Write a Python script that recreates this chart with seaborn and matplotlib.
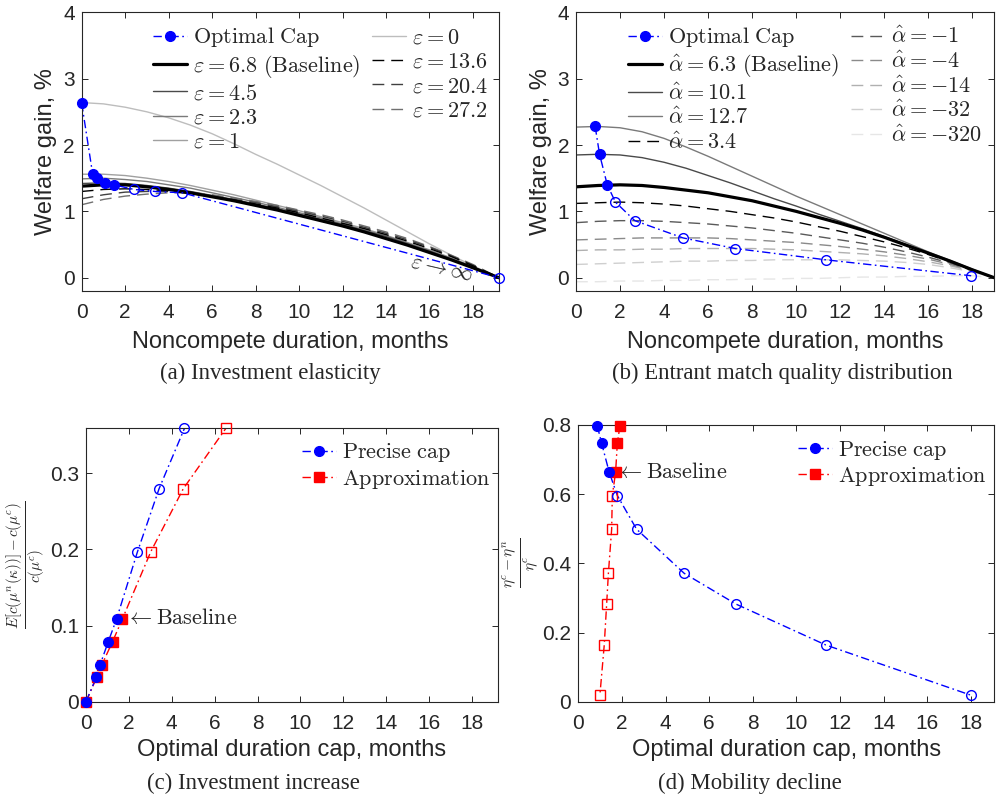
import matplotlib
matplotlib.use("Agg")
import matplotlib.pyplot as plt
import seaborn as sns
from matplotlib.lines import Line2D

# ─────────────────────────────────────────────
# Data
# ─────────────────────────────────────────────
# (a) welfare gain by investment elasticity
months_a = [0, 1, 2, 3, 4, 5, 6, 7, 8, 9, 10, 11, 12, 13, 14, 15, 16, 17, 18, 19.2]
gain_eps_0 = [2.64, 2.62, 2.57, 2.50, 2.41, 2.30, 2.17, 2.02, 1.86, 1.71, 1.55, 1.39, 1.22, 1.05, 0.87, 0.69, 0.51, 0.34, 0.18, 0.0]
gain_eps_1 = [1.56, 1.56, 1.54, 1.50, 1.45, 1.39, 1.32, 1.25, 1.17, 1.09, 1.01, 0.92, 0.83, 0.74, 0.64, 0.53, 0.42, 0.30, 0.17, 0.0]
gain_eps_23 = [1.49, 1.50, 1.48, 1.45, 1.40, 1.35, 1.28, 1.21, 1.14, 1.06, 0.98, 0.90, 0.81, 0.72, 0.63, 0.52, 0.41, 0.29, 0.16, 0.0]
gain_eps_45 = [1.42, 1.43, 1.42, 1.39, 1.35, 1.30, 1.24, 1.18, 1.11, 1.04, 0.96, 0.88, 0.80, 0.71, 0.62, 0.51, 0.40, 0.28, 0.16, 0.0]
gain_eps_68 = [1.38, 1.40, 1.40, 1.37, 1.33, 1.28, 1.22, 1.16, 1.09, 1.02, 0.94, 0.86, 0.78, 0.69, 0.59, 0.49, 0.38, 0.27, 0.15, 0.0]
gain_eps_136 = [1.30, 1.33, 1.34, 1.33, 1.31, 1.27, 1.22, 1.17, 1.11, 1.05, 0.98, 0.90, 0.82, 0.74, 0.65, 0.55, 0.44, 0.32, 0.18, 0.0]
gain_eps_204 = [1.19, 1.25, 1.29, 1.30, 1.30, 1.27, 1.23, 1.18, 1.13, 1.07, 1.00, 0.93, 0.85, 0.76, 0.67, 0.57, 0.46, 0.33, 0.19, 0.0]
gain_eps_272 = [1.10, 1.18, 1.23, 1.26, 1.28, 1.28, 1.25, 1.20, 1.15, 1.09, 1.02, 0.95, 0.87, 0.78, 0.69, 0.59, 0.47, 0.34, 0.20, 0.0]
cap_a_x = [0, 0.5, 0.69, 1.07, 1.49, 2.41, 3.38, 4.63, 19.2]
cap_a_y = [2.63, 1.57, 1.50, 1.43, 1.40, 1.33, 1.30, 1.28, 0.0]
n_filled_a = 5

# (b) welfare gain by entrant match quality
months_b = [0, 1, 2, 3, 4, 5, 6, 7, 8, 9, 10, 11, 12, 13, 14, 15, 16, 17, 18, 19]
gain_a_127 = [2.27, 2.28, 2.26, 2.20, 2.10, 1.97, 1.83, 1.68, 1.53, 1.38, 1.23, 1.09, 0.95, 0.81, 0.67, 0.53, 0.39, 0.26, 0.13, 0.0]
gain_a_101 = [1.85, 1.86, 1.85, 1.81, 1.74, 1.65, 1.54, 1.43, 1.31, 1.19, 1.08, 0.96, 0.85, 0.74, 0.62, 0.50, 0.38, 0.25, 0.12, 0.0]
gain_a_63 = [1.37, 1.39, 1.40, 1.39, 1.36, 1.32, 1.28, 1.22, 1.16, 1.08, 1.00, 0.91, 0.82, 0.72, 0.61, 0.49, 0.37, 0.25, 0.12, 0.0]
gain_a_34 = [1.12, 1.13, 1.14, 1.13, 1.11, 1.08, 1.04, 1.00, 0.95, 0.90, 0.84, 0.77, 0.70, 0.62, 0.54, 0.45, 0.35, 0.24, 0.12, 0.0]
gain_a_m1 = [0.83, 0.85, 0.86, 0.86, 0.85, 0.83, 0.81, 0.78, 0.75, 0.71, 0.67, 0.62, 0.57, 0.52, 0.46, 0.39, 0.31, 0.22, 0.11, 0.0]
gain_a_m4 = [0.57, 0.58, 0.59, 0.60, 0.60, 0.60, 0.60, 0.59, 0.57, 0.55, 0.53, 0.50, 0.47, 0.43, 0.39, 0.34, 0.28, 0.20, 0.11, 0.0]
gain_a_m14 = [0.41, 0.42, 0.42, 0.43, 0.43, 0.44, 0.44, 0.44, 0.44, 0.43, 0.42, 0.40, 0.38, 0.36, 0.33, 0.29, 0.24, 0.18, 0.10, 0.0]
gain_a_m32 = [0.20, 0.21, 0.22, 0.23, 0.24, 0.25, 0.25, 0.26, 0.26, 0.27, 0.27, 0.27, 0.27, 0.26, 0.25, 0.23, 0.20, 0.15, 0.09, 0.0]
gain_a_m320 = [-0.06, -0.06, -0.05, -0.05, -0.04, -0.04, -0.03, -0.03, -0.02, -0.02, -0.01, -0.01, 0.0, 0.01, 0.01, 0.02, 0.02, 0.03, 0.03, 0.0]
cap_b_x = [0.87, 1.07, 1.42, 1.79, 2.67, 4.86, 7.24, 11.35, 17.95]
cap_b_y = [2.28, 1.86, 1.40, 1.14, 0.86, 0.60, 0.44, 0.27, 0.03]
n_filled_b = 3

# (c) investment increase
inv_precise_x = [0, 0.48, 0.65, 1.04, 1.43, 2.40, 3.41, 4.59]
inv_approx_x = [0, 0.50, 0.73, 1.24, 1.70, 3.02, 4.54, 6.52]
inv_increase = [0, 0.032, 0.048, 0.079, 0.109, 0.197, 0.280, 0.359]
n_filled_c = 5

# (d) mobility decline
mob_precise_x = [0.87, 1.07, 1.42, 1.79, 2.67, 4.86, 7.24, 11.35, 18.0]
mob_approx_x = [1.91, 1.79, 1.71, 1.56, 1.53, 1.38, 1.30, 1.19, 0.99]
mob_decline = [0.798, 0.747, 0.663, 0.596, 0.499, 0.371, 0.282, 0.164, 0.019]
n_filled_d = 3

# ─────────────────────────────────────────────
# Style
# ─────────────────────────────────────────────
sns.set_theme(style="ticks")
plt.rcParams["font.family"] = ["Liberation Sans", "DejaVu Sans"]
plt.rcParams["mathtext.fontset"] = "cm"
plt.rcParams["axes.edgecolor"] = "#262626"
plt.rcParams["axes.linewidth"] = 0.8

BLUE = "#0000ff"
RED = "#ff0000"
DASHDOT = (0, (6, 2.5, 1.2, 2.5))
DASHED = (0, (8.5, 5))
TICK_FS = 15
LABEL_FS = 17
LEG_FS = 16
CAP_FS = 16.4

W, H = 996, 798
fig = plt.figure(figsize=(W / 100, H / 100), dpi=100)


def px_axes(left, right, top, bottom):
    return fig.add_axes([left / W, 1 - bottom / H, (right - left) / W, (bottom - top) / H])


ax_a = px_axes(81.7, 499.0, 12.3, 291.0)
ax_b = px_axes(576.0, 994.3, 12.3, 291.0)
ax_c = px_axes(86.0, 497.7, 427.7, 701.7)
ax_d = px_axes(578.3, 994.3, 425.0, 701.7)


def curve(ax, x, y, color, lw, ls="-"):
    sns.lineplot(x=x, y=y, ax=ax, color=color, linewidth=lw, linestyle=ls,
                 estimator=None, sort=False, errorbar=None)


def cap_line(ax, x, y, n_filled, color, marker, ms):
    sns.lineplot(x=x, y=y, ax=ax, color=color, linewidth=1.0, linestyle=DASHDOT,
                 estimator=None, sort=False, errorbar=None)
    ax.plot(x[:n_filled], y[:n_filled], linestyle="none", marker=marker, ms=ms,
            color=color, mfc=color, mec=color, clip_on=False, zorder=4)
    ax.plot(x[n_filled:], y[n_filled:], linestyle="none", marker=marker, ms=ms,
            color=color, mfc="none", mec=color, mew=1.0, clip_on=False, zorder=4)


def cap_handle(color, marker, ms):
    return Line2D([], [], color=color, linewidth=1.0, linestyle=DASHDOT,
                  marker=marker, ms=ms, mfc=color, mec=color)


def style_axes(ax, xlim, ylim, yticks):
    ax.set_xlim(*xlim)
    ax.set_ylim(*ylim)
    ax.set_xticks(range(0, 19, 2))
    ax.set_yticks(yticks)
    ax.set_yticklabels([f"{v:g}" for v in yticks])
    ax.tick_params(direction="in", top=True, right=True, length=4, width=0.7,
                   labelsize=TICK_FS)
    ax.tick_params(axis="x", pad=9)
    ax.tick_params(axis="y", pad=5)
    for s in ax.spines.values():
        s.set_visible(True)


def place_legend(ax, handles, labels, fx, fy, ncol):
    ax.legend(handles, labels, loc="upper left", bbox_to_anchor=(fx, fy), ncol=ncol,
              frameon=False, fontsize=LEG_FS, borderpad=0, borderaxespad=0,
              handlelength=1.53, handletextpad=0.27, columnspacing=0.54,
              labelspacing=0.15)


# ─────────────────────────────────────────────
# (a) Investment elasticity
# ─────────────────────────────────────────────
series_a = [
    (gain_eps_0, "#bdbdbd", 1.0, "-", r"$\varepsilon = 0$"),
    (gain_eps_1, "#a0a0a0", 1.0, "-", r"$\varepsilon = 1$"),
    (gain_eps_23, "#7a7a7a", 1.0, "-", r"$\varepsilon = 2.3$"),
    (gain_eps_45, "#4a4a4a", 1.0, "-", r"$\varepsilon = 4.5$"),
    (gain_eps_272, "#707070", 1.0, DASHED, r"$\varepsilon = 27.2$"),
    (gain_eps_204, "#404040", 1.0, DASHED, r"$\varepsilon = 20.4$"),
    (gain_eps_136, "#000000", 1.0, DASHED, r"$\varepsilon = 13.6$"),
    (gain_eps_68, "#000000", 2.3, "-", r"$\varepsilon = 6.8\ \mathrm{(Baseline)}$"),
]
handles_a = {}
for vals, col, lw, ls, lab in series_a:
    curve(ax_a, months_a, vals, col, lw, ls)
    handles_a[lab] = Line2D([], [], color=col, linewidth=lw, linestyle=ls)
cap_line(ax_a, cap_a_x, cap_a_y, n_filled_a, BLUE, "o", 7)

order_a = [r"$\varepsilon = 6.8\ \mathrm{(Baseline)}$", r"$\varepsilon = 4.5$",
           r"$\varepsilon = 2.3$", r"$\varepsilon = 1$", r"$\varepsilon = 0$",
           r"$\varepsilon = 13.6$", r"$\varepsilon = 20.4$", r"$\varepsilon = 27.2$"]
place_legend(ax_a, [cap_handle(BLUE, "o", 7)] + [handles_a[k] for k in order_a],
             [r"$\mathrm{Optimal\ Cap}$"] + order_a, 0.17, 0.953, 2)
ax_a.text(16.55, 0.14, r"$\varepsilon \rightarrow \infty$", fontsize=LEG_FS,
          rotation=-13, ha="center", va="center", rotation_mode="anchor")
style_axes(ax_a, (0, 19.2), (-0.2, 4), [0, 1, 2, 3, 4])
ax_a.set_xlabel("Noncompete duration, months", fontsize=LABEL_FS, labelpad=6)
ax_a.set_ylabel("Welfare gain, %", fontsize=LABEL_FS, labelpad=4)

# ─────────────────────────────────────────────
# (b) Entrant match quality distribution
# ─────────────────────────────────────────────
series_b = [
    (gain_a_m320, "#e6e6e6", 1.0, DASHED, r"$\hat{\alpha} = -320$"),
    (gain_a_m32, "#cfcfcf", 1.0, DASHED, r"$\hat{\alpha} = -32$"),
    (gain_a_m14, "#b0b0b0", 1.0, DASHED, r"$\hat{\alpha} = -14$"),
    (gain_a_m4, "#8a8a8a", 1.0, DASHED, r"$\hat{\alpha} = -4$"),
    (gain_a_m1, "#5a5a5a", 1.0, DASHED, r"$\hat{\alpha} = -1$"),
    (gain_a_34, "#000000", 1.0, DASHED, r"$\hat{\alpha} = 3.4$"),
    (gain_a_127, "#7a7a7a", 1.0, "-", r"$\hat{\alpha} = 12.7$"),
    (gain_a_101, "#4a4a4a", 1.0, "-", r"$\hat{\alpha} = 10.1$"),
    (gain_a_63, "#000000", 2.3, "-", r"$\hat{\alpha} = 6.3\ \mathrm{(Baseline)}$"),
]
handles_b = {}
for vals, col, lw, ls, lab in series_b:
    curve(ax_b, months_b, vals, col, lw, ls)
    handles_b[lab] = Line2D([], [], color=col, linewidth=lw, linestyle=ls)
cap_line(ax_b, cap_b_x, cap_b_y, n_filled_b, BLUE, "o", 7)

order_b = [r"$\hat{\alpha} = 6.3\ \mathrm{(Baseline)}$", r"$\hat{\alpha} = 10.1$",
           r"$\hat{\alpha} = 12.7$", r"$\hat{\alpha} = 3.4$", r"$\hat{\alpha} = -1$",
           r"$\hat{\alpha} = -4$", r"$\hat{\alpha} = -14$", r"$\hat{\alpha} = -32$",
           r"$\hat{\alpha} = -320$"]
place_legend(ax_b, [cap_handle(BLUE, "o", 7)] + [handles_b[k] for k in order_b],
             [r"$\mathrm{Optimal\ Cap}$"] + order_b, 0.124, 0.953, 2)
style_axes(ax_b, (0, 19), (-0.2, 4), [0, 1, 2, 3, 4])
ax_b.set_xlabel("Noncompete duration, months", fontsize=LABEL_FS, labelpad=6)
ax_b.set_ylabel("Welfare gain, %", fontsize=LABEL_FS, labelpad=4)

# ─────────────────────────────────────────────
# (c) Investment increase
# ─────────────────────────────────────────────
cap_line(ax_c, inv_approx_x, inv_increase, n_filled_c, RED, "s", 6.5)
cap_line(ax_c, inv_precise_x, inv_increase, n_filled_c, BLUE, "o", 7)
place_legend(ax_c, [cap_handle(BLUE, "o", 7), cap_handle(RED, "s", 6.5)],
             [r"$\mathrm{Precise\ cap}$", r"$\mathrm{Approximation}$"], 0.524, 0.95, 1)
ax_c.text(1.85, inv_increase[4], r"$\leftarrow\mathrm{Baseline}$", fontsize=LEG_FS,
          ha="left", va="center")
style_axes(ax_c, (0, 19.2), (0, 0.36), [0, 0.1, 0.2, 0.3])
ax_c.set_xlabel("Optimal duration cap, months", fontsize=LABEL_FS, labelpad=4)
ax_c.set_ylabel(r"$\frac{E[c(\mu^n(\kappa))]-c(\mu^c)}{c(\mu^c)}$", fontsize=15.5, labelpad=2)

# ─────────────────────────────────────────────
# (d) Mobility decline
# ─────────────────────────────────────────────
cap_line(ax_d, mob_approx_x, mob_decline, n_filled_d, RED, "s", 6.5)
cap_line(ax_d, mob_precise_x, mob_decline, n_filled_d, BLUE, "o", 7)
place_legend(ax_d, [cap_handle(BLUE, "o", 7), cap_handle(RED, "s", 6.5)],
             [r"$\mathrm{Precise\ cap}$", r"$\mathrm{Approximation}$"], 0.529, 0.95, 1)
ax_d.text(1.72, mob_decline[2], r"$\leftarrow\mathrm{Baseline}$", fontsize=LEG_FS,
          ha="left", va="center")
style_axes(ax_d, (0, 19.08), (0, 0.8), [0, 0.2, 0.4, 0.6, 0.8])
ax_d.set_xlabel("Optimal duration cap, months", fontsize=LABEL_FS, labelpad=4)
ax_d.set_ylabel(r"$\frac{\eta^c-\eta^n}{\eta^c}$", fontsize=16, labelpad=1)

# ─────────────────────────────────────────────
# Captions
# ─────────────────────────────────────────────
cap_kw = dict(fontsize=CAP_FS, family=["Liberation Serif", "DejaVu Serif"],
              ha="center", va="center")
fig.text(270 / W, 1 - 373 / H, "(a) Investment elasticity", **cap_kw)
fig.text(782 / W, 1 - 373 / H, "(b) Entrant match quality distribution", **cap_kw)
fig.text(253 / W, 1 - 783 / H, "(c) Investment increase", **cap_kw)
fig.text(750 / W, 1 - 783 / H, "(d) Mobility decline", **cap_kw)

fig.savefig("out.png", dpi=100)
